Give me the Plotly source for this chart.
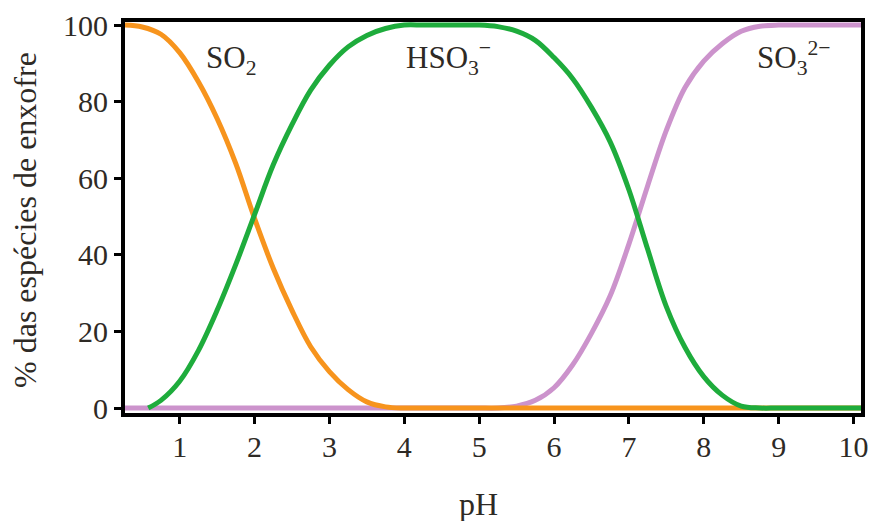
import plotly.graph_objects as go

# pH values and % of each sulfur species
ph_so2 = [0.27, 0.50, 0.75, 1.00, 1.25, 1.50, 1.75, 2.00, 2.25, 2.50, 2.75, 3.00, 3.25, 3.50, 3.75, 4.00, 4.25, 4.50, 10.10]
pct_so2 = [100, 99.5, 97.6, 92.8, 85.2, 75.6, 63.8, 49.5, 36.5, 25.5, 16, 9.5, 4.8, 1.6, 0.3, 0, 0, 0, 0]

ph_hso3 = [0.58, 0.75, 1.00, 1.25, 1.50, 1.75, 2.00, 2.25, 2.50, 2.75, 3.00, 3.25, 3.50, 3.75, 4.00, 4.25, 4.50,
           5.00, 5.25, 5.50, 5.75, 6.00, 6.25, 6.50, 6.75, 7.00, 7.25, 7.50, 7.75, 8.00, 8.25, 8.50, 8.75, 9.00, 10.10]
pct_hso3 = [0, 2, 7, 15, 25.5, 37.5, 50.5, 63.5, 74, 83, 89.5, 94.3, 97.3, 99.1, 100, 100, 100,
            100, 99.6, 98.4, 96, 91.5, 86, 78.5, 69.5, 57, 41.5, 26.5, 15.8, 8.2, 3.3, 0.5, 0, 0, 0]

ph_so3 = [0.27, 4.50, 4.75, 5.00, 5.25, 5.50, 5.75, 6.00, 6.25, 6.50, 6.75, 7.00, 7.25, 7.50, 7.75,
          8.00, 8.25, 8.50, 8.75, 9.00, 9.25, 10.10]
pct_so3 = [0, 0, 0, 0, 0, 0.5, 2, 5.3, 11.3, 19.5, 29.3, 42.8, 58, 72.5, 83.7,
           90.6, 95.2, 98.4, 99.7, 100, 100, 100]

x_ticks = [1, 2, 3, 4, 5, 6, 7, 8, 9, 10]
y_ticks = [0, 20, 40, 60, 80, 100]

labels = ["SO<sub>2</sub>", "HSO<sub>3</sub><sup>−</sup>", "SO<sub>3</sub><sup>2−</sup>"]
label_x = [1.69, 4.59, 9.20]
label_y = [91, 91.5, 91.5]

FONT = "Liberation Serif"
TXT = "#2e2a25"

fig = go.Figure()
for xs, ys, col in [(ph_so3, pct_so3, "#cc93cc"),
                    (ph_so2, pct_so2, "#f7941d"),
                    (ph_hso3, pct_hso3, "#1eac3c")]:
    fig.add_trace(go.Scatter(x=xs, y=ys, mode="lines",
                             line=dict(color=col, width=5, shape="spline", smoothing=1.0),
                             showlegend=False, hoverinfo="skip"))

for t, lx, ly in zip(labels, label_x, label_y):
    fig.add_annotation(x=lx, y=ly, text=t, showarrow=False, xanchor="center", yanchor="middle",
                       font=dict(family=FONT, size=31, color=TXT))

fig.add_annotation(xref="paper", yref="paper", x=0.4805, y=-0.2316, text="pH",
                   showarrow=False, xanchor="center", yanchor="middle",
                   font=dict(family=FONT, size=32, color=TXT))
fig.add_annotation(xref="paper", yref="paper", x=-0.1359, y=0.4936,
                   text="% das espécies de enxofre", textangle=-90,
                   showarrow=False, xanchor="center", yanchor="middle",
                   font=dict(family=FONT, size=32, color=TXT))

fig.update_layout(
    width=877, height=521,
    margin=dict(l=125, r=9, t=20, b=108),
    plot_bgcolor="white", paper_bgcolor="white",
)
fig.update_xaxes(range=[0.27, 10.10], tickvals=x_ticks, ticktext=[str(v) for v in x_ticks],
                 showgrid=False, zeroline=False, showline=True, linecolor="black", linewidth=4,
                 mirror=True, ticks="outside", ticklen=7, tickwidth=3, tickcolor="black",
                 ticklabelstandoff=-3,
                 tickfont=dict(family=FONT, size=30, color=TXT))
fig.update_yaxes(range=[-1.3, 100.8], tickvals=y_ticks, ticktext=[str(v) for v in y_ticks],
                 showgrid=False, zeroline=False, showline=True, linecolor="black", linewidth=4,
                 mirror=True, ticks="outside", ticklen=7, tickwidth=3, tickcolor="black",
                 ticklabelstandoff=0,
                 tickfont=dict(family=FONT, size=30, color=TXT))

fig.write_html("out.html")
